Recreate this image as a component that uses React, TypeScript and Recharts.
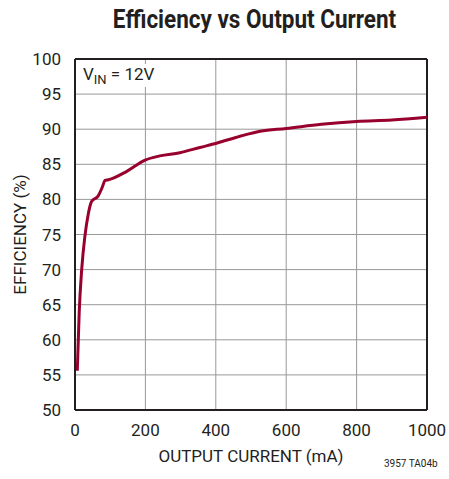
import { LineChart, Line, XAxis, YAxis, CartesianGrid, ReferenceLine, Label } from "recharts";

const currentMA = [6.5, 12, 19, 28, 38, 47, 66, 78, 85, 95, 147, 199, 241, 298, 355, 402, 469, 526, 600, 700, 800, 900, 1000];
const efficiency = [55.6, 64, 70, 74.7, 78, 79.7, 80.5, 81.8, 82.7, 82.8, 84.0, 85.6, 86.2, 86.65, 87.4, 88.0, 89.0, 89.7, 90.1, 90.7, 91.1, 91.3, 91.7];
const xTicks = [0, 200, 400, 600, 800, 1000];
const yTicks = [50, 55, 60, 65, 70, 75, 80, 85, 90, 95, 100];

const data = currentMA.map((x, i) => ({ x, eff: efficiency[i] }));

const font = "'Liberation Sans Narrow', 'Roboto', sans-serif";
const dark = "#231f20";

export default function App() {
  return (
    <div style={{ position: "absolute", left: 0, top: 0, width: 449, height: 479, background: "#fff", fontFamily: font }}>
      <div style={{ position: "absolute", left: 60, width: 389, top: 5, textAlign: "center", fontSize: 25, fontWeight: "bold", color: dark, transform: "scaleX(0.9)" }}>
        Efficiency vs Output Current
      </div>
      <LineChart width={449} height={479} data={data} margin={{ top: 59, right: 22, left: 35, bottom: 29 }}>
        <CartesianGrid stroke="#999" strokeWidth={1} />
        <XAxis
          dataKey="x"
          type="number"
          domain={[0, 1000]}
          ticks={xTicks}
          height={40}
          tickLine={false}
          axisLine={{ stroke: dark, strokeWidth: 2 }}
          tick={{ fontSize: 17, fill: dark, fontFamily: font }}
          tickMargin={8}
        >
          <Label value="OUTPUT CURRENT (mA)" position="insideBottom" offset={-12} style={{ fontSize: 17, fill: dark, fontFamily: font }} />
        </XAxis>
        <YAxis
          type="number"
          domain={[50, 100]}
          ticks={yTicks}
          width={40}
          tickLine={false}
          axisLine={{ stroke: dark, strokeWidth: 2 }}
          tick={{ fontSize: 17, fill: dark, fontFamily: font }}
          tickMargin={8}
        >
          <Label value="EFFICIENCY (%)" angle={-90} position="insideLeft" offset={-15} style={{ fontSize: 17, fill: dark, fontFamily: font, textAnchor: "middle" }} />
        </YAxis>
        <ReferenceLine y={100} stroke={dark} strokeWidth={2} />
        <ReferenceLine x={1000} stroke={dark} strokeWidth={2} />
        <Line type="monotone" dataKey="eff" stroke="#98002e" strokeWidth={3} dot={false} isAnimationActive={false} />
      </LineChart>
      <div style={{ position: "absolute", left: 83, top: 64, fontSize: 17, color: dark, background: "#fff", paddingRight: 3 }}>
        V<sub style={{ fontSize: 13, verticalAlign: -4 }}>IN</sub> = 12V
      </div>
      <div style={{ position: "absolute", left: 384, top: 458, fontSize: 10, color: dark }}>3957 TA04b</div>
    </div>
  );
}
